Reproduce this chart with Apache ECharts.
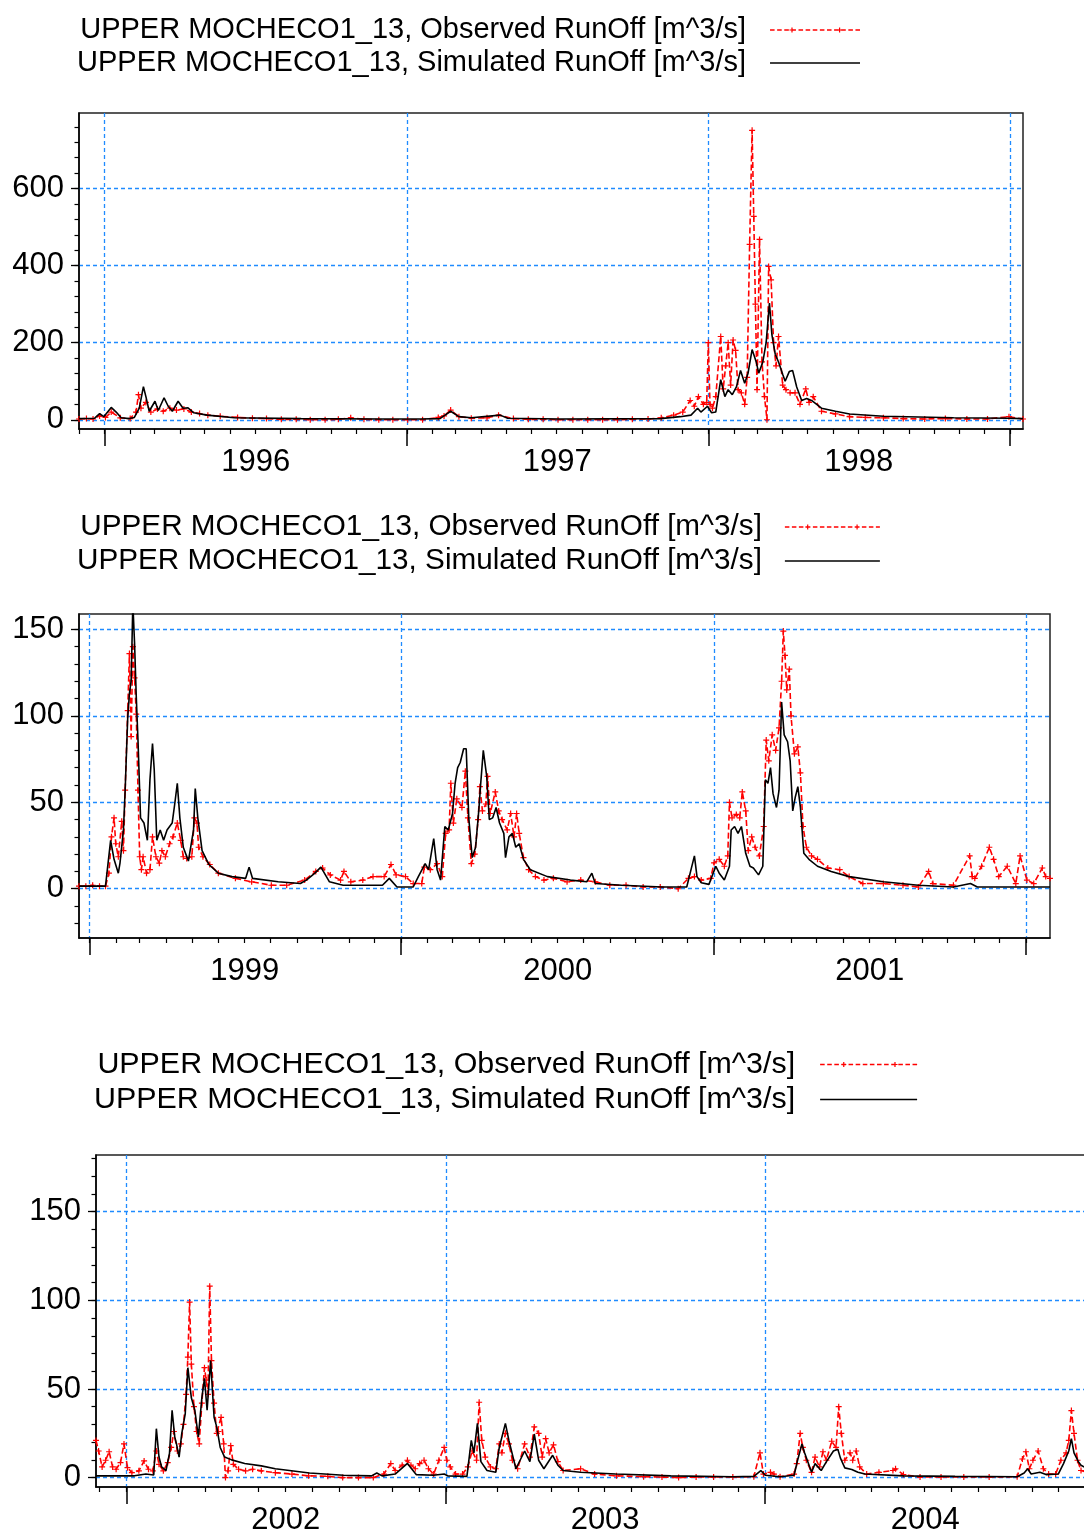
<!DOCTYPE html>
<html>
<head>
<meta charset="utf-8">
<title>UPPER MOCHECO1_13 RunOff</title>
<script src="https://cdn.jsdelivr.net/npm/echarts@6/dist/echarts.min.js"></script>
<style>
  html, body { margin: 0; padding: 0; background: #fff; }
  #chart { width: 1084px; height: 1535px; }
</style>
</head>
<body>
<div id="chart"></div>
<script>
const OBS = 'UPPER MOCHECO1_13, Observed RunOff [m^3/s]';
const SIM = 'UPPER MOCHECO1_13, Simulated RunOff [m^3/s]';

// ---- panel 1 : 1996 - 1998 ----
const obs1 = [
  ['1995-12-01', 2], ['1995-12-10', 3], ['1995-12-18', 2], ['1995-12-26', 10], ['1996-01-02', 6],
  ['1996-01-09', 20], ['1996-01-20', 5], ['1996-02-01', 3], ['1996-02-08', 20], ['1996-02-11', 65],
  ['1996-02-14', 30], ['1996-02-20', 45], ['1996-02-26', 20], ['1996-03-05', 28], ['1996-03-12', 22],
  ['1996-03-20', 30], ['1996-03-28', 25], ['1996-04-06', 28], ['1996-04-15', 20], ['1996-04-25', 16],
  ['1996-05-05', 12], ['1996-05-20', 9], ['1996-06-10', 6], ['1996-06-28', 4], ['1996-07-15', 3],
  ['1996-08-02', 1], ['1996-08-20', 1], ['1996-09-06', 0], ['1996-09-24', 0], ['1996-10-10', 1],
  ['1996-10-25', 5], ['1996-11-10', 1], ['1996-11-28', 0], ['1996-12-15', 0], ['1997-01-02', 0],
  ['1997-01-20', 0], ['1997-02-08', 6], ['1997-02-15', 10], ['1997-02-23', 25], ['1997-03-05', 8],
  ['1997-03-20', 4], ['1997-04-08', 5], ['1997-04-22', 12], ['1997-05-10', 3], ['1997-05-28', 1],
  ['1997-06-15', 1], ['1997-07-03', 0], ['1997-07-21', 0], ['1997-08-08', 0], ['1997-08-26', 0],
  ['1997-09-13', 0], ['1997-10-01', 1], ['1997-10-20', 2], ['1997-11-05', 5], ['1997-11-20', 12],
  ['1997-12-01', 20], ['1997-12-10', 50], ['1997-12-15', 35], ['1997-12-20', 60], ['1997-12-26', 40],
  ['1997-12-30', 45], ['1998-01-01', 200], ['1998-01-03', 40], ['1998-01-06', 30], ['1998-01-10', 60],
  ['1998-01-16', 216], ['1998-01-19', 80], ['1998-01-22', 140], ['1998-01-25', 200], ['1998-01-28', 90],
  ['1998-01-31', 207], ['1998-02-03', 180], ['1998-02-06', 78], ['1998-02-10', 70], ['1998-02-14', 40],
  ['1998-02-17', 110], ['1998-02-20', 455], ['1998-02-23', 751], ['1998-02-25', 528], ['1998-02-27', 300],
  ['1998-03-01', 78], ['1998-03-04', 468], ['1998-03-07', 150], ['1998-03-10', 60], ['1998-03-13', 0],
  ['1998-03-15', 398], ['1998-03-18', 363], ['1998-03-21', 200], ['1998-03-24', 140], ['1998-03-27', 216],
  ['1998-04-01', 90], ['1998-04-05', 78], ['1998-04-10', 70], ['1998-04-16', 70], ['1998-04-22', 40],
  ['1998-04-29', 80], ['1998-05-03', 45], ['1998-05-08', 60], ['1998-05-18', 22], ['1998-06-04', 15],
  ['1998-06-21', 8], ['1998-07-10', 6], ['1998-08-01', 5], ['1998-08-25', 3], ['1998-09-20', 2],
  ['1998-10-15', 3], ['1998-11-10', 2], ['1998-12-05', 2], ['1998-12-31', 8], ['1999-01-17', 2]
];
const sim1 = [
  ['1995-12-01', 3], ['1995-12-20', 4], ['1995-12-26', 16], ['1995-12-31', 8], ['1996-01-09', 32],
  ['1996-01-15', 20], ['1996-01-21', 5], ['1996-01-31', 3], ['1996-02-06', 6], ['1996-02-12', 30],
  ['1996-02-17', 86], ['1996-02-20', 60], ['1996-02-24', 22], ['1996-03-02', 48], ['1996-03-06', 24],
  ['1996-03-13', 57], ['1996-03-18', 35], ['1996-03-23', 22], ['1996-03-30', 48], ['1996-04-05', 30],
  ['1996-04-11', 31], ['1996-04-18', 18], ['1996-05-04', 12], ['1996-06-06', 5], ['1996-08-26', 3],
  ['1996-12-02', 2], ['1997-01-17', 2], ['1997-02-10', 3], ['1997-02-23', 22], ['1997-03-05', 8],
  ['1997-03-20', 5], ['1997-04-24', 12], ['1997-05-03', 4], ['1997-07-06', 2], ['1997-11-04', 3],
  ['1997-11-28', 8], ['1997-12-11', 12], ['1997-12-19', 30], ['1997-12-23', 20], ['1997-12-31', 35],
  ['1998-01-05', 18], ['1998-01-10', 20], ['1998-01-16', 104], ['1998-01-21', 60], ['1998-01-25', 78],
  ['1998-01-30', 65], ['1998-02-04', 85], ['1998-02-09', 128], ['1998-02-14', 95], ['1998-02-18', 120],
  ['1998-02-23', 182], ['1998-02-28', 150], ['1998-03-03', 121], ['1998-03-08', 150], ['1998-03-12', 200],
  ['1998-03-16', 303], ['1998-03-19', 220], ['1998-03-23', 170], ['1998-03-27', 150], ['1998-04-01', 118],
  ['1998-04-04', 100], ['1998-04-09', 125], ['1998-04-13', 128], ['1998-04-18', 85], ['1998-04-24', 50],
  ['1998-04-30', 55], ['1998-05-06', 50], ['1998-05-18', 30], ['1998-06-04', 22], ['1998-06-21', 15],
  ['1998-08-01', 9], ['1998-10-25', 5], ['1998-12-31', 4], ['1999-01-17', 3]
];
const yearTicks1 = ['1996-01-01', '1997-01-01', '1998-01-01', '1999-01-01'];
const yearLabels1 = ['1996-07-02', '1997-07-02', '1998-07-02'];
const yTicks1 = [0, 200, 400, 600];

// ---- panel 2 : 1999 - 2001 ----
const obs2 = [
  ['1998-12-20', 1.5], ['1998-12-28', 1.5], ['1999-01-05', 2], ['1999-01-13', 1.5], ['1999-01-20', 1.5],
  ['1999-01-24', 9], ['1999-01-27', 30], ['1999-01-30', 41], ['1999-02-01', 26], ['1999-02-04', 18.5],
  ['1999-02-08', 39], ['1999-02-10', 22], ['1999-02-12', 57], ['1999-02-15', 103], ['1999-02-17', 136],
  ['1999-02-19', 88], ['1999-02-21', 140], ['1999-02-23', 122], ['1999-02-25', 101], ['1999-02-27', 57],
  ['1999-03-01', 18.5], ['1999-03-03', 11], ['1999-03-05', 18.5], ['1999-03-09', 9], ['1999-03-13', 11],
  ['1999-03-16', 30], ['1999-03-20', 18.5], ['1999-03-24', 14.8], ['1999-03-27', 22], ['1999-03-31', 18.5],
  ['1999-04-05', 26], ['1999-04-09', 30], ['1999-04-14', 38], ['1999-04-18', 28], ['1999-04-21', 18.5],
  ['1999-04-25', 17.5], ['1999-05-01', 18.5], ['1999-05-04', 41], ['1999-05-07', 38], ['1999-05-09', 24],
  ['1999-05-14', 18.5], ['1999-05-22', 14], ['1999-06-01', 9], ['1999-06-21', 6], ['1999-07-10', 4],
  ['1999-08-02', 2], ['1999-08-20', 2], ['1999-09-10', 5], ['1999-09-23', 10], ['1999-10-01', 12],
  ['1999-10-10', 8], ['1999-10-22', 5], ['1999-10-26', 10], ['1999-11-03', 4], ['1999-11-17', 5],
  ['1999-11-29', 7], ['1999-12-12', 7], ['1999-12-20', 14], ['1999-12-26', 8], ['2000-01-06', 7],
  ['2000-01-15', 3], ['2000-01-25', 3], ['2000-01-28', 12.5], ['2000-02-04', 11], ['2000-02-12', 14.5],
  ['2000-02-18', 7], ['2000-02-22', 32], ['2000-02-26', 34], ['2000-02-28', 61], ['2000-03-02', 38],
  ['2000-03-06', 52], ['2000-03-12', 47], ['2000-03-16', 68], ['2000-03-19', 41], ['2000-03-23', 14.5],
  ['2000-03-27', 20], ['2000-03-31', 40], ['2000-04-02', 59], ['2000-04-05', 45], ['2000-04-09', 49],
  ['2000-04-11', 65], ['2000-04-14', 43.5], ['2000-04-20', 56], ['2000-04-24', 45], ['2000-04-28', 40],
  ['2000-05-04', 34], ['2000-05-08', 43.5], ['2000-05-12', 30], ['2000-05-15', 43.5], ['2000-05-18', 32],
  ['2000-05-23', 18], ['2000-05-29', 11], ['2000-06-06', 7], ['2000-06-16', 5], ['2000-06-27', 6],
  ['2000-07-13', 4], ['2000-07-29', 5], ['2000-08-15', 4], ['2000-09-01', 2], ['2000-09-20', 2],
  ['2000-10-10', 1], ['2000-10-30', 1], ['2000-11-20', 0], ['2000-12-02', 6], ['2000-12-09', 7],
  ['2000-12-17', 5], ['2000-12-28', 6], ['2001-01-01', 15], ['2001-01-07', 17], ['2001-01-13', 13],
  ['2001-01-17', 19], ['2001-01-19', 50], ['2001-01-22', 41], ['2001-01-27', 43], ['2001-01-31', 41],
  ['2001-02-03', 56], ['2001-02-07', 45], ['2001-02-10', 22], ['2001-02-14', 30], ['2001-02-18', 24],
  ['2001-02-23', 19], ['2001-02-28', 36], ['2001-03-03', 86], ['2001-03-06', 74], ['2001-03-10', 89],
  ['2001-03-14', 80], ['2001-03-18', 93], ['2001-03-21', 120], ['2001-03-23', 149], ['2001-03-25', 135],
  ['2001-03-27', 115], ['2001-03-30', 127], ['2001-04-01', 100], ['2001-04-05', 78], ['2001-04-09', 82],
  ['2001-04-12', 67], ['2001-04-15', 36], ['2001-04-19', 24], ['2001-04-25', 19], ['2001-05-02', 17],
  ['2001-05-14', 12], ['2001-05-28', 11], ['2001-06-08', 7], ['2001-06-24', 3], ['2001-07-18', 3],
  ['2001-08-10', 2], ['2001-08-28', 1], ['2001-09-09', 10], ['2001-09-14', 3], ['2001-10-08', 2],
  ['2001-10-27', 19], ['2001-10-30', 7], ['2001-11-02', 6], ['2001-11-10', 13], ['2001-11-19', 24],
  ['2001-11-24', 17], ['2001-11-30', 7], ['2001-12-10', 13], ['2001-12-20', 3], ['2001-12-25', 19],
  ['2002-01-02', 5], ['2002-01-10', 3], ['2002-01-20', 12], ['2002-01-24', 7], ['2002-01-29', 6]
];
const sim2 = [
  ['1998-12-20', 1.5], ['1999-01-05', 1.5], ['1999-01-20', 1.5], ['1999-01-22', 2], ['1999-01-26', 28],
  ['1999-01-30', 17], ['1999-02-04', 9], ['1999-02-06', 15], ['1999-02-10', 34], ['1999-02-12', 57],
  ['1999-02-15', 99], ['1999-02-17', 113], ['1999-02-19', 120], ['1999-02-21', 165], ['1999-02-23', 142],
  ['1999-02-25', 111], ['1999-02-27', 86], ['1999-03-02', 41], ['1999-03-06', 38], ['1999-03-10', 28],
  ['1999-03-13', 63], ['1999-03-16', 84], ['1999-03-18', 69], ['1999-03-21', 28], ['1999-03-25', 34],
  ['1999-03-29', 28], ['1999-04-02', 34], ['1999-04-08', 38], ['1999-04-11', 49], ['1999-04-14', 61],
  ['1999-04-17', 41], ['1999-04-21', 24], ['1999-04-27', 16], ['1999-05-03', 34], ['1999-05-05', 58],
  ['1999-05-08', 41], ['1999-05-13', 22], ['1999-05-21', 14], ['1999-06-01', 9], ['1999-06-17', 7],
  ['1999-07-03', 6], ['1999-07-07', 12.5], ['1999-07-11', 6], ['1999-08-10', 4], ['1999-09-05', 3],
  ['1999-09-12', 5], ['1999-09-22', 9], ['1999-09-29', 12.5], ['1999-10-09', 4], ['1999-10-25', 2],
  ['1999-12-10', 2], ['1999-12-18', 6], ['1999-12-27', 1], ['2000-01-15', 1], ['2000-01-21', 7],
  ['2000-01-29', 14.5], ['2000-02-02', 11], ['2000-02-08', 29], ['2000-02-12', 11], ['2000-02-16', 5],
  ['2000-02-21', 36], ['2000-02-25', 34], ['2000-03-01', 43.5], ['2000-03-04', 61], ['2000-03-07', 70],
  ['2000-03-10', 73], ['2000-03-14', 81], ['2000-03-17', 81], ['2000-03-20', 41], ['2000-03-24', 18],
  ['2000-03-28', 24], ['2000-04-01', 47], ['2000-04-03', 61], ['2000-04-06', 80], ['2000-04-10', 65],
  ['2000-04-13', 40], ['2000-04-17', 41], ['2000-04-21', 47], ['2000-04-25', 38], ['2000-04-30', 32],
  ['2000-05-02', 18], ['2000-05-06', 30], ['2000-05-10', 32], ['2000-05-14', 24], ['2000-05-18', 26],
  ['2000-05-23', 17], ['2000-05-31', 11], ['2000-06-20', 7], ['2000-07-17', 5], ['2000-08-05', 4],
  ['2000-08-11', 9], ['2000-08-15', 3], ['2000-09-15', 2], ['2000-11-01', 1], ['2000-11-30', 1],
  ['2000-12-03', 7], ['2000-12-09', 19], ['2000-12-12', 7], ['2000-12-17', 3.5], ['2000-12-26', 2.5],
  ['2001-01-03', 13], ['2001-01-07', 9], ['2001-01-13', 5], ['2001-01-19', 13], ['2001-01-21', 34],
  ['2001-01-25', 36], ['2001-01-29', 32], ['2001-02-02', 36], ['2001-02-07', 20.5], ['2001-02-12', 13],
  ['2001-02-16', 12], ['2001-02-22', 8], ['2001-02-27', 13], ['2001-03-02', 63], ['2001-03-05', 61],
  ['2001-03-08', 70], ['2001-03-11', 55], ['2001-03-15', 47], ['2001-03-18', 57], ['2001-03-21', 108],
  ['2001-03-24', 89], ['2001-03-28', 85], ['2001-03-31', 74], ['2001-04-03', 45], ['2001-04-06', 53],
  ['2001-04-09', 59], ['2001-04-12', 47], ['2001-04-16', 20.5], ['2001-04-22', 17], ['2001-05-02', 13],
  ['2001-05-18', 10], ['2001-06-08', 7], ['2001-07-18', 4], ['2001-08-28', 2], ['2001-10-08', 1],
  ['2001-10-28', 3], ['2001-11-05', 1], ['2002-01-29', 1]
];
const yearTicks2 = ['1999-01-01', '2000-01-01', '2001-01-01', '2002-01-01'];
const yearLabels2 = ['1999-07-02', '2000-07-02', '2001-07-02'];
const yTicks2 = [0, 50, 100, 150];

// ---- panel 3 : 2002 - 2004 ----
const obs3 = [
  ['2001-11-27', 21], ['2001-11-30', 15], ['2001-12-04', 6], ['2001-12-08', 9.8], ['2001-12-12', 14.6],
  ['2001-12-16', 6], ['2001-12-20', 4.7], ['2001-12-25', 8.5], ['2001-12-29', 19], ['2002-01-02', 5.6],
  ['2002-01-07', 2.8], ['2002-01-15', 3.8], ['2002-01-21', 9.4], ['2002-01-26', 4.7], ['2002-01-31', 3.8],
  ['2002-02-04', 15], ['2002-02-07', 7.5], ['2002-02-12', 3.8], ['2002-02-17', 8.5], ['2002-02-21', 17],
  ['2002-02-24', 26], ['2002-02-28', 15], ['2002-03-04', 19], ['2002-03-07', 30], ['2002-03-10', 47],
  ['2002-03-12', 68], ['2002-03-14', 99], ['2002-03-16', 64], ['2002-03-19', 40], ['2002-03-22', 26],
  ['2002-03-25', 19], ['2002-03-28', 42], ['2002-03-31', 62], ['2002-04-02', 55], ['2002-04-04', 47],
  ['2002-04-06', 108], ['2002-04-08', 66], ['2002-04-11', 42], ['2002-04-14', 25], ['2002-04-16', 26],
  ['2002-04-19', 34], ['2002-04-22', 19], ['2002-04-24', 0], ['2002-04-27', 3.8], ['2002-04-30', 18],
  ['2002-05-03', 7.5], ['2002-05-09', 4.7], ['2002-05-17', 3.8], ['2002-05-25', 4.7], ['2002-06-04', 3.8],
  ['2002-06-20', 2.8], ['2002-07-09', 2], ['2002-07-28', 1], ['2002-08-19', 0.7], ['2002-09-05', 0],
  ['2002-09-23', 0], ['2002-10-10', 0], ['2002-10-22', 2], ['2002-10-30', 7.9], ['2002-11-04', 4],
  ['2002-11-12', 7], ['2002-11-18', 9.8], ['2002-11-22', 7], ['2002-11-27', 5], ['2002-12-02', 7.9],
  ['2002-12-07', 9.8], ['2002-12-12', 5], ['2002-12-18', 2], ['2002-12-24', 9.8], ['2002-12-30', 17],
  ['2003-01-02', 9.8], ['2003-01-06', 6], ['2003-01-12', 2], ['2003-01-20', 2], ['2003-01-26', 6],
  ['2003-01-31', 15], ['2003-02-05', 9.8], ['2003-02-08', 42.5], ['2003-02-11', 21], ['2003-02-15', 11.6],
  ['2003-02-21', 6], ['2003-02-27', 5], ['2003-03-03', 19], ['2003-03-06', 14], ['2003-03-10', 25],
  ['2003-03-14', 19], ['2003-03-18', 9.8], ['2003-03-24', 5], ['2003-04-01', 19], ['2003-04-07', 11.6],
  ['2003-04-12', 28.6], ['2003-04-17', 25], ['2003-04-21', 11.6], ['2003-04-25', 22], ['2003-04-29', 14],
  ['2003-05-04', 18.5], ['2003-05-09', 9], ['2003-05-15', 4], ['2003-06-04', 5], ['2003-06-20', 2],
  ['2003-07-15', 1], ['2003-08-15', 0.5], ['2003-09-05', 0.3], ['2003-09-24', 0], ['2003-10-14', 0.3],
  ['2003-11-03', 0.3], ['2003-11-25', 0.3], ['2003-12-19', 0.5], ['2003-12-26', 14], ['2003-12-30', 2],
  ['2004-01-07', 3], ['2004-01-11', 2], ['2004-01-18', 0.5], ['2004-02-03', 2], ['2004-02-06', 7.9],
  ['2004-02-10', 25], ['2004-02-13', 17], ['2004-02-17', 9.8], ['2004-02-23', 3], ['2004-02-27', 11.6],
  ['2004-03-03', 6], ['2004-03-07', 14.6], ['2004-03-11', 9.8], ['2004-03-17', 20.5], ['2004-03-22', 17],
  ['2004-03-25', 40], ['2004-03-28', 25], ['2004-04-01', 9.8], ['2004-04-07', 14], ['2004-04-10', 9.8],
  ['2004-04-14', 15], ['2004-04-18', 6], ['2004-04-26', 2], ['2004-05-10', 3], ['2004-05-26', 4],
  ['2004-05-29', 5], ['2004-06-07', 1.7], ['2004-06-26', 0.3], ['2004-07-20', 0.3], ['2004-08-15', 0.3],
  ['2004-09-13', 0.3], ['2004-10-15', 0.5], ['2004-10-21', 10.5], ['2004-10-25', 14.6], ['2004-10-29', 5],
  ['2004-11-02', 9.8], ['2004-11-08', 15], ['2004-11-14', 5], ['2004-11-20', 2], ['2004-11-28', 2],
  ['2004-12-04', 9.8], ['2004-12-10', 14], ['2004-12-13', 21], ['2004-12-16', 37.8], ['2004-12-19', 25],
  ['2004-12-23', 9.8], ['2004-12-27', 4], ['2005-01-03', 3]
];
const sim3 = [
  ['2001-11-27', 1], ['2001-12-20', 1], ['2002-01-10', 1], ['2002-01-23', 2], ['2002-02-01', 1.5],
  ['2002-02-04', 27.6], ['2002-02-07', 11.6], ['2002-02-10', 6], ['2002-02-15', 4], ['2002-02-19', 13.6],
  ['2002-02-22', 38], ['2002-02-25', 23], ['2002-02-27', 19], ['2002-03-02', 11.6], ['2002-03-05', 24.8],
  ['2002-03-09', 36], ['2002-03-12', 62], ['2002-03-16', 45], ['2002-03-20', 38], ['2002-03-24', 23],
  ['2002-03-28', 45], ['2002-03-31', 56], ['2002-04-03', 38], ['2002-04-07', 66], ['2002-04-11', 34],
  ['2002-04-14', 28.6], ['2002-04-18', 17], ['2002-04-23', 11.6], ['2002-05-01', 10], ['2002-05-16', 8],
  ['2002-06-04', 6.6], ['2002-06-20', 5], ['2002-07-29', 2.6], ['2002-09-06', 1.3], ['2002-10-08', 1],
  ['2002-10-14', 2.6], ['2002-10-20', 1], ['2002-11-04', 2], ['2002-11-18', 8], ['2002-11-28', 1.7],
  ['2002-12-18', 1.3], ['2002-12-30', 2], ['2003-01-03', 1], ['2003-01-25', 0.7], ['2003-01-30', 21],
  ['2003-02-02', 14], ['2003-02-06', 30.6], ['2003-02-10', 9], ['2003-02-17', 4], ['2003-02-27', 3],
  ['2003-03-03', 17], ['2003-03-10', 30.6], ['2003-03-14', 21], ['2003-03-22', 5], ['2003-04-01', 15],
  ['2003-04-07', 9], ['2003-04-12', 24.6], ['2003-04-17', 9.8], ['2003-04-23', 5], ['2003-05-03', 12.6],
  ['2003-05-09', 7], ['2003-05-15', 4], ['2003-06-04', 3], ['2003-07-14', 2], ['2003-09-15', 1],
  ['2003-11-25', 0.5], ['2003-12-19', 0.7], ['2003-12-27', 4], ['2004-01-01', 1.3], ['2004-01-18', 0.5],
  ['2004-02-03', 1.3], ['2004-02-07', 9.8], ['2004-02-12', 19], ['2004-02-15', 14], ['2004-02-23', 3],
  ['2004-02-27', 7.9], ['2004-03-05', 4], ['2004-03-11', 9], ['2004-03-19', 15], ['2004-03-24', 16],
  ['2004-03-27', 11], ['2004-04-01', 5.5], ['2004-04-09', 4.6], ['2004-04-16', 3], ['2004-04-24', 2],
  ['2004-06-07', 1], ['2004-08-05', 0.7], ['2004-10-15', 0.5], ['2004-10-23', 2.6], ['2004-10-27', 5],
  ['2004-10-31', 2], ['2004-11-10', 3], ['2004-11-17', 1.7], ['2004-12-01', 2], ['2004-12-07', 7.9],
  ['2004-12-13', 15], ['2004-12-16', 22], ['2004-12-19', 14], ['2004-12-24', 9], ['2004-12-27', 7],
  ['2005-01-03', 5]
];
const yearTicks3 = ['2002-01-01', '2003-01-01', '2004-01-01', '2005-01-01'];
const yearLabels3 = ['2002-07-02', '2003-07-02', '2004-07-02'];
const yTicks3 = [0, 50, 100, 150];

// ---- helpers ----
function ts(s) {
  return new Date(s + 'T00:00:00').getTime();
}
function toXY(rows) {
  return rows.map(function (r) { return [ts(r[0]), r[1]]; });
}
function monthTicks(y, m, yEnd, mEnd) {
  const out = [];
  while (y < yEnd || (y === yEnd && m <= mEnd)) {
    out.push(ts(y + '-' + String(m).padStart(2, '0') + '-01'));
    m++;
    if (m > 12) { m = 1; y++; }
  }
  return out;
}
function steps(from, to, step) {
  const out = [];
  for (let v = from; v <= to; v += step) out.push(v);
  return out;
}
// legend icons drawn as paths (dashed line with + marks / plain line)
function obsIcon(w) {
  let p = 'path://';
  for (let x = 0; x < w; x += 7) {
    const x2 = Math.min(x + 4.5, w);
    p += 'M' + x + ',1.7H' + x2 + 'V3.3H' + x + 'Z';
  }
  [w * 0.24, w * 0.76].forEach(function (c) {
    p += 'M' + (c - 0.6) + ',0H' + (c + 0.6) + 'V5H' + (c - 0.6) + 'Z';
    p += 'M' + (c - 2.5) + ',1.9H' + (c + 2.5) + 'V3.1H' + (c - 2.5) + 'Z';
  });
  return p;
}
function simIcon(w) {
  return 'path://M0,0H' + w + 'V1.6H0Z';
}

const BLUE = '#1f8bff';
const PLUS = 'path://M2,0H3V2H5V3H3V5H2V3H0V2H2Z';
const FONT = 'Liberation Sans, Arial, sans-serif';

const panels = [
  {
    grid: { left: 79, top: 113, width: 944, height: 316 },
    xMin: '1995-12-01', xMax: '1999-01-17', yMin: -24, yMax: 796,
    years: yearTicks1, labels: yearLabels1, months: monthTicks(1995, 12, 1999, 1),
    yTicks: yTicks1, yMinor: steps(0, 760, 40), obs: obs1, sim: sim1,
    legend: { left: 77, top: 15, fontSize: 29, lineHeight: 30, gap: 3, w: 90, pad: 19 }
  },
  {
    grid: { left: 79, top: 614, width: 971, height: 324 },
    xMin: '1998-12-20', xMax: '2002-01-29', yMin: -28.5, yMax: 158.9,
    years: yearTicks2, labels: yearLabels2, months: monthTicks(1999, 1, 2002, 1),
    yTicks: yTicks2, yMinor: steps(-20, 150, 10), obs: obs2, sim: sim2,
    legend: { left: 77, top: 512, fontSize: 29.7, lineHeight: 30, gap: 4, w: 95, pad: 18 }
  },
  {
    grid: { left: 96, top: 1155, width: 1006, height: 332 },
    xMin: '2001-11-27', xMax: '2005-01-20', yMin: -5.3, yMax: 182,
    years: yearTicks3, labels: yearLabels3, months: monthTicks(2001, 12, 2005, 1),
    yTicks: yTicks3, yMinor: steps(0, 180, 10), obs: obs3, sim: sim3,
    legend: { left: 94, top: 1049, fontSize: 30.4, lineHeight: 31, gap: 4, w: 97, pad: 20 }
  }
];

const grids = [], xAxes = [], yAxes = [], series = [], legends = [];
panels.forEach(function (p, i) {
  grids.push(Object.assign({
    show: true, borderColor: '#222', borderWidth: 1.5, outerBoundsMode: 'none', containLabel: false
  }, p.grid));

  // year axis: labels, long ticks, vertical grid lines
  xAxes.push({
    type: 'value', gridIndex: i, position: 'bottom', min: ts(p.xMin), max: ts(p.xMax),
    axisLine: { show: true, onZero: false, lineStyle: { color: '#000', width: 1.5 } },
    axisTick: { show: true, customValues: p.years.map(ts), length: 17, lineStyle: { color: '#000', width: 1.5 } },
    axisLabel: {
      show: true, customValues: p.labels.map(ts), margin: 18, fontSize: 31, color: '#000', fontFamily: FONT,
      formatter: function (v) { return String(new Date(v).getFullYear()); }
    },
    splitLine: { show: true, lineStyle: { color: BLUE, type: [4, 3], width: 1.3 } }
  });
  // month axis: short ticks only
  xAxes.push({
    type: 'value', gridIndex: i, position: 'bottom', min: ts(p.xMin), max: ts(p.xMax),
    axisLine: { show: false, onZero: false },
    axisTick: { show: true, customValues: p.months, length: 5, lineStyle: { color: '#000', width: 1.2 } },
    axisLabel: { show: false },
    splitLine: { show: false }
  });

  yAxes.push({
    type: 'value', gridIndex: i, position: 'left', min: p.yMin, max: p.yMax,
    axisLine: { show: true, onZero: false, lineStyle: { color: '#000', width: 1.5 } },
    axisTick: { show: true, customValues: p.yTicks, length: 8, lineStyle: { color: '#000', width: 1.3 } },
    axisLabel: {
      show: true, customValues: p.yTicks, margin: 15, fontSize: 31, color: '#000', fontFamily: FONT,
      padding: [5, 0, 0, 0]
    },
    splitLine: { show: true, lineStyle: { color: BLUE, type: [4, 3], width: 1.3 } }
  });
  yAxes.push({
    type: 'value', gridIndex: i, position: 'left', min: p.yMin, max: p.yMax,
    axisLine: { show: false, onZero: false },
    axisTick: { show: true, customValues: p.yMinor, length: 4.5, lineStyle: { color: '#000', width: 1.2 } },
    axisLabel: { show: false },
    splitLine: { show: false }
  });

  series.push({
    name: OBS, type: 'line', xAxisIndex: i * 2, yAxisIndex: i * 2, data: toXY(p.obs),
    symbol: PLUS, symbolSize: 6, showSymbol: true,
    lineStyle: { color: '#ff0000', width: 1.6, type: [6, 3] },
    itemStyle: { color: '#ff0000', borderWidth: 0 },
    emphasis: { disabled: true }, z: 2
  });
  series.push({
    name: SIM, type: 'line', xAxisIndex: i * 2, yAxisIndex: i * 2, data: toXY(p.sim),
    symbol: 'none', showSymbol: false,
    lineStyle: { color: '#000', width: 1.6 },
    itemStyle: { color: '#000', borderWidth: 0 },
    emphasis: { disabled: true }, z: 3
  });

  const L = p.legend;
  legends.push({
    left: L.left, top: L.top, orient: 'vertical', align: 'right', padding: 0,
    itemGap: L.gap, itemWidth: L.w, itemHeight: 14, selectedMode: false,
    itemStyle: { borderWidth: 0 },
    textStyle: { fontSize: L.fontSize, lineHeight: L.lineHeight, color: '#000', fontFamily: FONT, padding: [0, L.pad, 0, 0] },
    data: [
      { name: OBS, icon: obsIcon(L.w) },
      { name: SIM, icon: simIcon(L.w) }
    ]
  });
});

const myChart = echarts.init(document.getElementById('chart'), null, { renderer: 'canvas' });
const option = {
  animation: false,
  backgroundColor: '#fff',
  textStyle: { fontFamily: FONT },
  legend: legends,
  grid: grids,
  xAxis: xAxes,
  yAxis: yAxes,
  series: series
};
myChart.setOption(option);
</script>
</body>
</html>
